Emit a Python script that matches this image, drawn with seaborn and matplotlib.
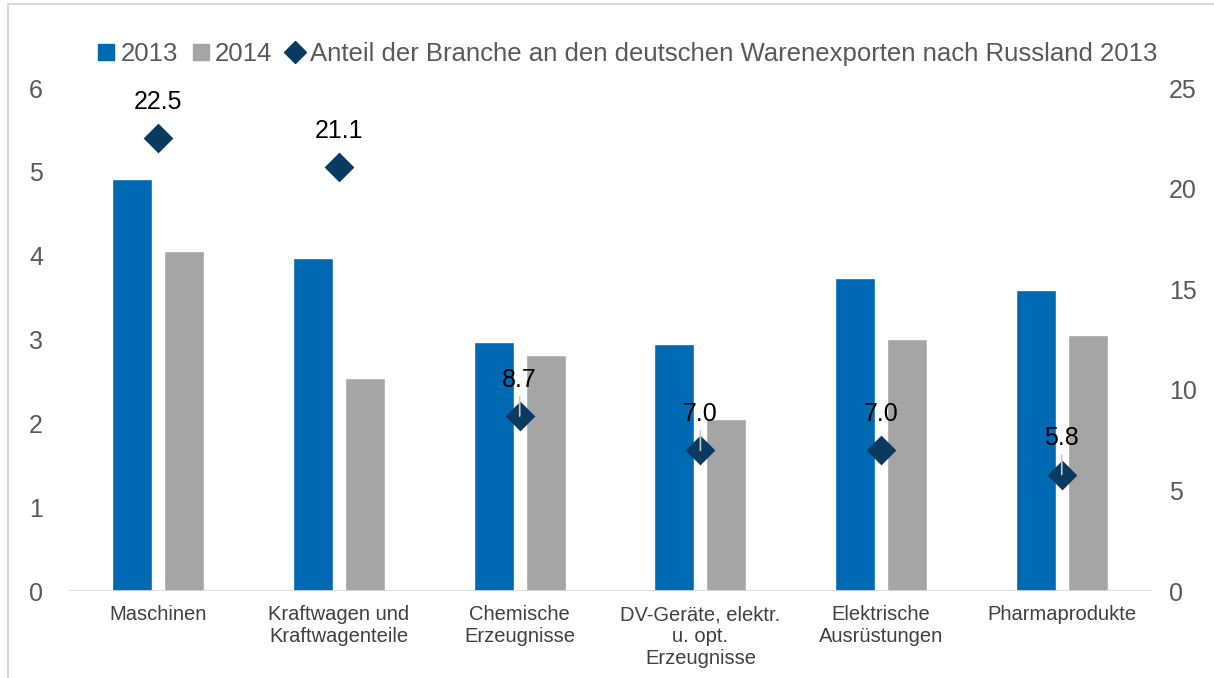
import matplotlib
matplotlib.use('Agg')
import matplotlib.pyplot as plt
import seaborn as sns
import pandas as pd
import numpy as np
from matplotlib.lines import Line2D
from matplotlib.patches import Rectangle

# Data
categories = ["Maschinen", "Kraftwagen und\nKraftwagenteile", "Chemische\nErzeugnisse",
              "DV-Geräte, elektr.\nu. opt.\nErzeugnisse", "Elektrische\nAusrüstungen",
              "Pharmaprodukte"]
values_2013 = [4.92, 3.97, 2.97, 2.95, 3.74, 3.59]
values_2014 = [4.06, 2.54, 2.82, 2.05, 3.01, 3.05]
share_2013 = [22.5, 21.1, 8.7, 7.0, 7.0, 5.8]
has_leader = [False, False, True, True, False, True]
share_label = "Anteil der Branche an den deutschen Warenexporten nach Russland 2013"

blue = "#0069B4"
grey = "#A5A5A5"
navy = "#0B3A60"
tick_col = "#595959"

sns.set_theme(style="white")
plt.rcParams['font.family'] = ['Liberation Sans', 'DejaVu Sans']

df = pd.DataFrame({
    "Branche": categories * 2,
    "Jahr": ["2013"] * len(categories) + ["2014"] * len(categories),
    "Wert": values_2013 + values_2014,
})

fig = plt.figure(figsize=(12.14, 6.78), dpi=100)
ax = fig.add_axes([0.056, 0.128, 0.893, 0.742])

sns.barplot(data=df, x="Branche", y="Wert", hue="Jahr", order=categories,
            palette=[blue, grey], width=0.576, gap=0.23, saturation=1,
            legend=False, ax=ax)
ax.set_ylim(0, 6)
ax.set_xlim(-0.5, len(categories) - 0.5)
ax.set_xlabel("")
ax.set_ylabel("")
ax.set_yticks(range(0, 7))
ax.tick_params(axis='y', length=0, pad=18, labelsize=18, labelcolor=tick_col)
ax.tick_params(axis='x', length=0, pad=10, labelsize=14.5, labelcolor="#404040")
for s in ax.spines.values():
    s.set_visible(False)
ax.axhline(0, color="#D9D9D9", lw=1.2, zorder=1)

# secondary axis: share of exports
ax2 = ax.twinx()
xpos = np.arange(len(categories))
sns.scatterplot(x=xpos, y=share_2013, marker="D", s=230, color=navy,
                edgecolor=navy, linewidth=0, ax=ax2, zorder=4)
ax2.set_ylim(0, 25)
ax2.set_yticks(range(0, 26, 5))
ax2.tick_params(axis='y', length=0, pad=12, labelsize=18, labelcolor=tick_col)
for s in ax2.spines.values():
    s.set_visible(False)

for x, v, lead in zip(xpos, share_2013, has_leader):
    if lead:
        ax2.annotate(f"{v:.1f}", xy=(x, v), xytext=(0, 26), textcoords="offset points",
                     ha="center", va="center", fontsize=18, color="black",
                     arrowprops=dict(arrowstyle="-", color="#C8C8C8", lw=1.2,
                                     shrinkA=1, shrinkB=0), zorder=5)
    else:
        ax2.annotate(f"{v:.1f}", xy=(x, v), xytext=(0, 26), textcoords="offset points",
                     ha="center", va="center", fontsize=18, color="black")

handles = [
    Line2D([], [], marker="s", ls="", color=blue, markersize=12),
    Line2D([], [], marker="s", ls="", color=grey, markersize=12),
    Line2D([], [], marker="D", ls="", color=navy, markersize=11),
]
fig.legend(handles, ["2013", "2014", share_label], loc="center", ncol=3,
           bbox_to_anchor=(0.516, 0.92), frameon=False, fontsize=18.5,
           labelcolor=tick_col, handlelength=0.8, handletextpad=0.15,
           columnspacing=0.5)

# outer chart frame
fig.patches.append(Rectangle((8 / 1214, -0.1), 1.2, 1.1 - 4 / 678,
                             transform=fig.transFigure, fill=False,
                             edgecolor="#D9D9D9", lw=1.5))

fig.savefig("out.png", dpi=100)
plt.close(fig)
